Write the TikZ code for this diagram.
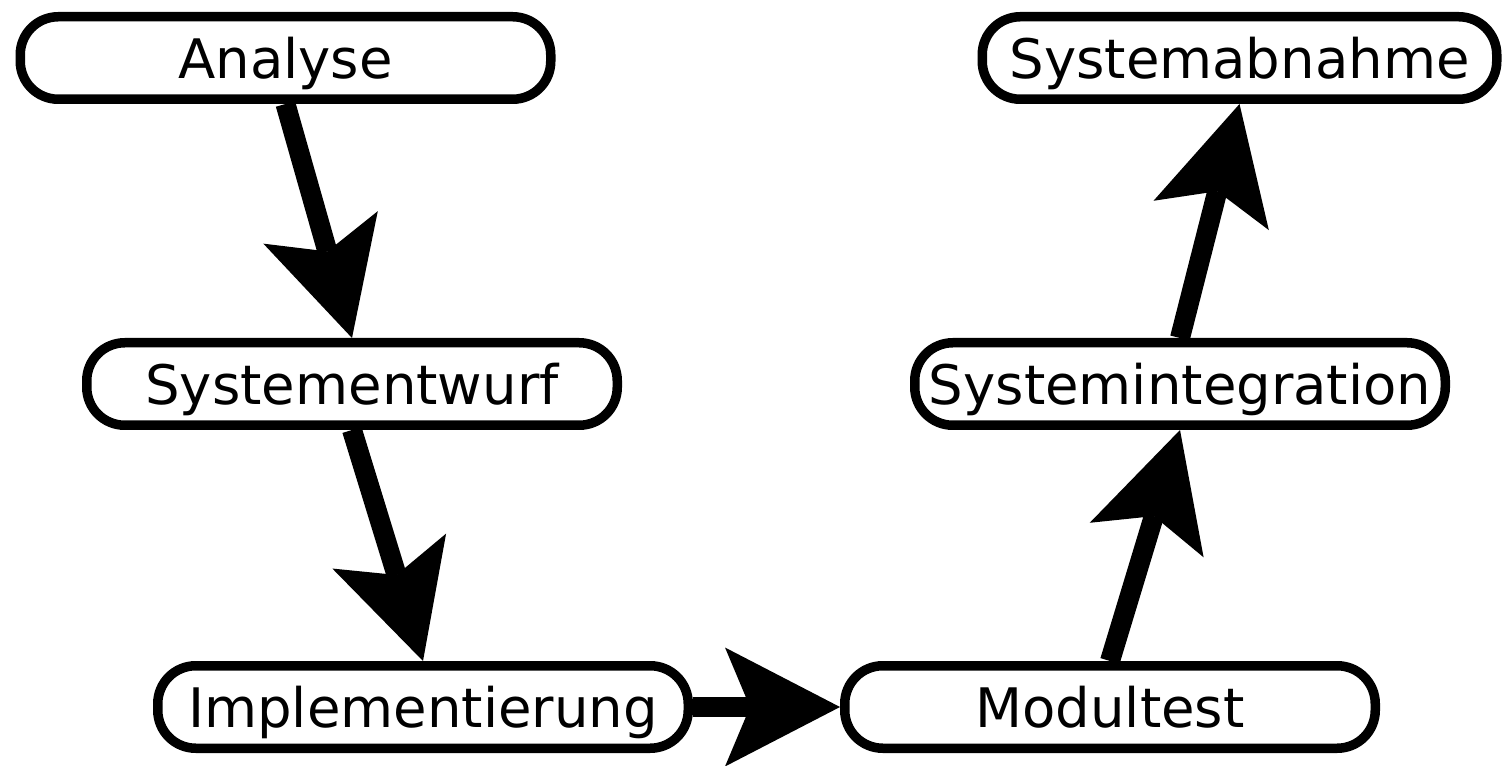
\documentclass[tikz,border=0pt]{standalone}
\usepackage{fontspec}
\setmainfont{DejaVu Sans}
\usetikzlibrary{arrows.meta}

\begin{document}
\begin{tikzpicture}[
  phase/.style={draw, line width=0.19cm, rounded corners=0.76cm, fill=white,
    minimum width=10.61cm, minimum height=1.65cm, inner sep=0pt,
    text height=23.3pt, text depth=0pt, font=\fontsize{31}{37}\selectfont},
  flow/.style={line width=0.4cm,
    -{Stealth[length=2.3cm, width=2.38cm, inset=0.5cm, line width=0pt]}}
]
\useasboundingbox (0,0) rectangle (30.06,15.3);

% Left branch (down)
\node[phase] (analyse) at (5.71,14.14) {Analyse};
\node[phase] (entwurf) at (7.04,7.62) {Systementwurf};
\node[phase] (impl) at (8.46,1.16) {Implementierung};

% Right branch (up)
\node[phase] (modultest) at (22.2,1.16) {Modultest};
\node[phase] (integration) at (23.6,7.62) {Systemintegration};
\node[phase, minimum width=10.29cm] (abnahme) at (24.79,14.14) {Systemabnahme};

% Arrows
\draw[flow] (analyse.south) -- (entwurf.north);
\draw[flow] (entwurf.south) -- (impl.north);
\draw[flow] (impl.east) -- (modultest.west);
\draw[flow] (modultest.north) -- (integration.south);
\draw[flow] (integration.north) -- (abnahme.south);
\end{tikzpicture}
\end{document}
